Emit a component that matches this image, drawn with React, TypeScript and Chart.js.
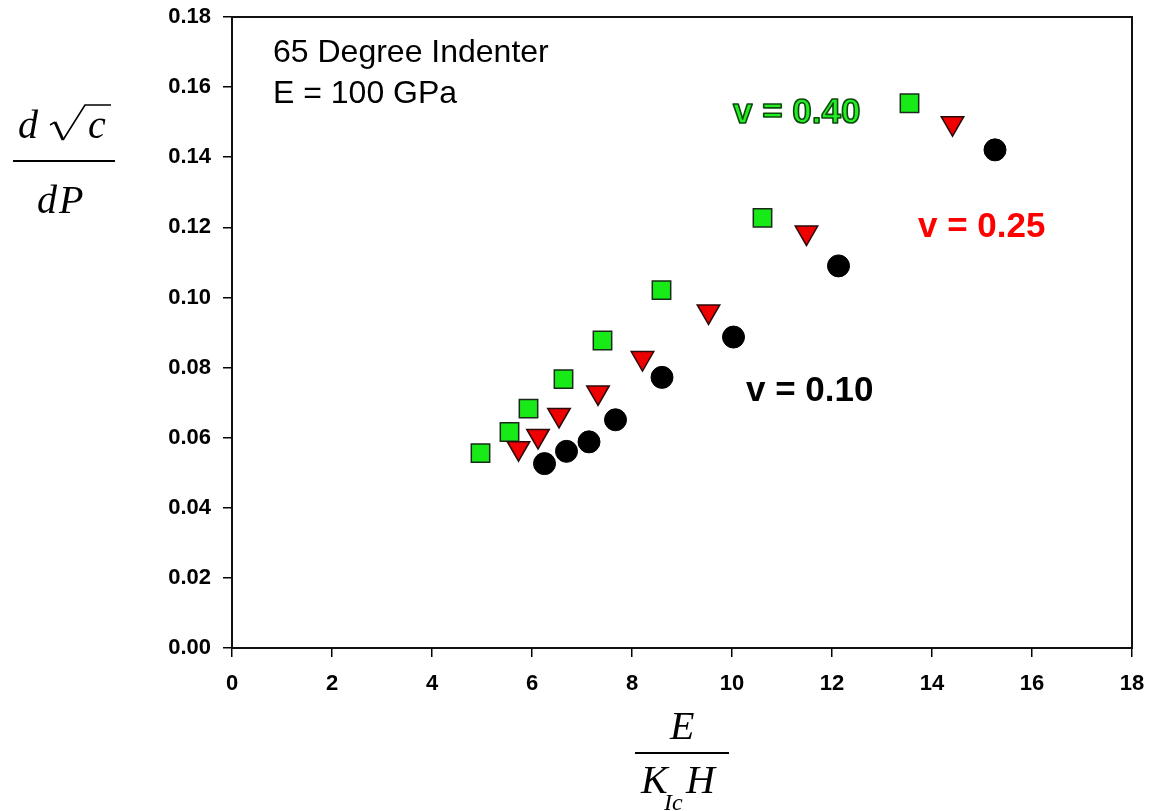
import React, { useEffect, useRef } from 'react';
import { Chart, registerables } from 'chart.js';

Chart.register(...registerables);

// v = 0.10 (black circles)
const v10X = [6.25, 6.69, 7.14, 7.67, 8.6, 10.03, 12.13, 15.26];
const v10Y = [0.0526, 0.0561, 0.0588, 0.0651, 0.0772, 0.0887, 0.109, 0.1421];
// v = 0.25 (red down triangles)
const v25X = [5.73, 6.12, 6.54, 7.32, 8.21, 9.53, 11.49, 14.41];
const v25Y = [0.057, 0.0605, 0.0665, 0.0729, 0.0827, 0.096, 0.1185, 0.1497];
// v = 0.40 (green squares)
const v40X = [4.97, 5.55, 5.93, 6.63, 7.41, 8.59, 10.61, 13.55];
const v40Y = [0.0556, 0.0616, 0.0683, 0.0767, 0.0877, 0.1021, 0.1227, 0.1554];

const seriesLabels = ['v = 0.10', 'v = 0.25', 'v = 0.40'];
const noteLines = ['65 Degree Indenter', 'E = 100 GPa'];

const xMin = 0;
const xMax = 18;
const xStep = 2;
const yMin = 0;
const yMax = 0.18;
const yStep = 0.02;

const SANS = "'Liberation Sans', Arial, sans-serif";
const SERIF = "'Liberation Serif', 'Times New Roman', serif";

const toPoints = (xs: number[], ys: number[]) => xs.map((x, i) => ({ x, y: ys[i] }));

const decorPlugin = {
  id: 'decor',
  afterDraw(chart: any) {
    const ctx = chart.ctx as CanvasRenderingContext2D;
    const a = chart.chartArea;
    ctx.save();
    // frame
    ctx.strokeStyle = '#111';
    ctx.lineWidth = 2;
    ctx.strokeRect(a.left, a.top, a.right - a.left, a.bottom - a.top);

    // note text
    ctx.fillStyle = '#000';
    ctx.textAlign = 'left';
    ctx.textBaseline = 'alphabetic';
    ctx.font = `32px ${SANS}`;
    ctx.fillText(noteLines[0], 273, 62);
    ctx.fillText(noteLines[1], 273, 103);

    // series labels
    ctx.font = `bold 35px ${SANS}`;
    ctx.lineJoin = 'round';
    ctx.fillStyle = '#22ee22';
    ctx.strokeStyle = '#0d4a0d';
    ctx.lineWidth = 1.6;
    ctx.fillText(seriesLabels[2], 733, 123);
    ctx.strokeText(seriesLabels[2], 733, 123);
    ctx.fillStyle = '#ff0000';
    ctx.fillText(seriesLabels[1], 918, 237);
    ctx.fillStyle = '#000';
    ctx.fillText(seriesLabels[0], 746, 401);

    // y axis title: d sqrt(c) / dP
    ctx.font = `italic 40px ${SERIF}`;
    ctx.fillStyle = '#000';
    ctx.fillText('d', 18, 138);
    ctx.fillText('c', 88, 138);
    ctx.fillText('d', 37, 213);
    const dW = ctx.measureText('d').width;
    ctx.fillText('P', 37 + dW + 2, 213);
    // radical sign
    ctx.strokeStyle = '#000';
    ctx.lineCap = 'butt';
    ctx.lineJoin = 'miter';
    ctx.lineWidth = 1.6;
    ctx.beginPath();
    ctx.moveTo(50, 125);
    ctx.lineTo(55, 122);
    ctx.stroke();
    ctx.lineWidth = 3;
    ctx.beginPath();
    ctx.moveTo(55, 122);
    ctx.lineTo(63, 140);
    ctx.stroke();
    ctx.lineWidth = 1.6;
    ctx.beginPath();
    ctx.moveTo(63, 140);
    ctx.lineTo(85, 105);
    ctx.lineTo(111, 105);
    ctx.stroke();
    // fraction bar
    ctx.lineWidth = 2;
    ctx.beginPath();
    ctx.moveTo(13, 161);
    ctx.lineTo(115, 161);
    ctx.stroke();

    // x axis title: E / (K_Ic H)
    ctx.font = `italic 40px ${SERIF}`;
    ctx.fillText('E', 670, 739);
    ctx.fillText('K', 641, 793);
    ctx.fillText('H', 686, 793);
    ctx.font = `italic 24px ${SERIF}`;
    ctx.fillText('Ic', 664, 810);
    ctx.lineWidth = 2;
    ctx.beginPath();
    ctx.moveTo(635, 753);
    ctx.lineTo(729, 753);
    ctx.stroke();
    ctx.restore();
  },
};

export default function App() {
  const ref = useRef<HTMLCanvasElement | null>(null);
  useEffect(() => {
    if (!ref.current) return;
    const chart = new Chart(ref.current, {
      type: 'scatter',
      data: {
        datasets: [
          {
            label: seriesLabels[0],
            data: toPoints(v10X, v10Y),
            pointStyle: 'circle',
            pointRadius: 11,
            backgroundColor: '#000000',
            borderColor: '#000000',
            pointBorderWidth: 1,
          },
          {
            label: seriesLabels[1],
            data: toPoints(v25X, v25Y),
            pointStyle: 'triangle',
            rotation: 180,
            pointRadius: 13,
            backgroundColor: '#ee0000',
            borderColor: '#2a0a0a',
            pointBorderWidth: 1.5,
          },
          {
            label: seriesLabels[2],
            data: toPoints(v40X, v40Y),
            pointStyle: 'rect',
            pointRadius: 13,
            backgroundColor: '#18ea18',
            borderColor: '#1a2a1a',
            pointBorderWidth: 1.5,
          },
        ],
      },
      options: {
        animation: false,
        responsive: false,
        devicePixelRatio: 1,
        layout: { padding: { left: 0, top: 17, right: 19, bottom: 0 } },
        plugins: {
          legend: { display: false },
          tooltip: { enabled: false },
        },
        scales: {
          x: {
            type: 'linear',
            min: xMin,
            max: xMax,
            afterFit: (s: any) => {
              s.height = 163;
              s.paddingLeft = 0;
              s.paddingRight = 0;
            },
            border: { display: false },
            grid: {
              drawOnChartArea: false,
              drawTicks: true,
              tickLength: 9,
              color: '#000',
              lineWidth: 1.5,
            },
            ticks: {
              stepSize: xStep,
              color: '#000',
              padding: 14,
              font: { family: SANS, size: 22, weight: 'bold' },
              callback: (v: any) => String(v),
            },
          },
          y: {
            type: 'linear',
            min: yMin,
            max: yMax,
            afterFit: (s: any) => {
              s.width = 232;
              s.paddingTop = 0;
              s.paddingBottom = 0;
            },
            border: { display: false },
            grid: {
              drawOnChartArea: false,
              drawTicks: true,
              tickLength: 9,
              color: '#000',
              lineWidth: 1.5,
            },
            ticks: {
              stepSize: yStep,
              color: '#000',
              padding: 12,
              font: { family: SANS, size: 22, weight: 'bold' },
              callback: (v: any) => Number(v).toFixed(2),
            },
          },
        },
      },
      plugins: [decorPlugin],
    } as any);
    return () => chart.destroy();
  }, []);
  return (
    <div style={{ position: 'absolute', left: 0, top: 0, width: 1151, height: 811, background: '#fff' }}>
      <canvas ref={ref} width={1151} height={811} style={{ display: 'block' }} />
    </div>
  );
}
